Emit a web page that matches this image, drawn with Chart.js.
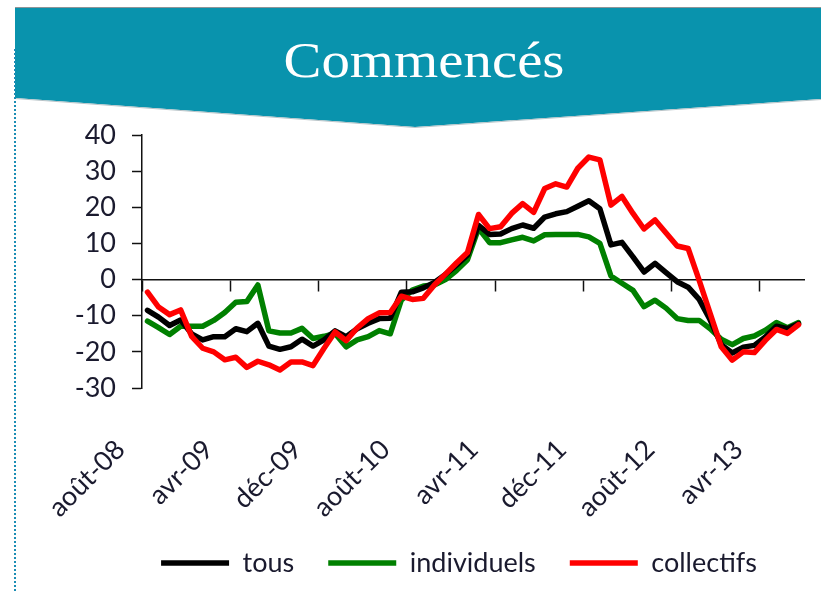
<!DOCTYPE html>
<html>
<head>
<meta charset="utf-8">
<script src="https://cdn.jsdelivr.net/npm/chart.js@4"></script>
<style>
html,body{margin:0;padding:0;background:#fff;width:821px;height:591px;overflow:hidden}
#wrap{position:relative;width:821px;height:591px}
#c{position:absolute;left:0;top:0}
#banner{position:absolute;left:0;top:0}
#dots{position:absolute;left:14px;top:49px;height:542px;border-left:2px dotted #1b8db4}
</style>
</head>
<body>
<div id="wrap">
<canvas id="c" width="821" height="591"></canvas>
<svg id="banner" width="821" height="135" xmlns="http://www.w3.org/2000/svg">
  <polygon points="15,8 821,8 821,99 415,127 15,98" fill="#0993ad"/>
  <polyline points="15,98.5 415,127.5 821,99.5" fill="none" stroke="#b9c4c8" stroke-width="1"/>
  <line x1="15" y1="7.5" x2="821" y2="7.5" stroke="#8e9598" stroke-width="1.2"/>
  <text x="424" y="77" text-anchor="middle" font-family="Liberation Serif" font-size="50" fill="#ffffff" textLength="281" lengthAdjust="spacingAndGlyphs">Commencés</text>
</svg>
<div id="dots"></div>
</div>
<script>
const categories = ['août-08','sept-08','oct-08','nov-08','déc-08',
  'janv-09','févr-09','mars-09','avr-09','mai-09','juin-09','juil-09','août-09','sept-09','oct-09','nov-09','déc-09',
  'janv-10','févr-10','mars-10','avr-10','mai-10','juin-10','juil-10','août-10','sept-10','oct-10','nov-10','déc-10',
  'janv-11','févr-11','mars-11','avr-11','mai-11','juin-11','juil-11','août-11','sept-11','oct-11','nov-11','déc-11',
  'janv-12','févr-12','mars-12','avr-12','mai-12','juin-12','juil-12','août-12','sept-12','oct-12','nov-12','déc-12',
  'janv-13','févr-13','mars-13','avr-13','mai-13','juin-13','juil-13'];
const shownTicks = ['août-08','avr-09','déc-09','août-10','avr-11','déc-11','août-12','avr-13'];
const yTicks = [-30,-20,-10,0,10,20,30,40];

const tous = [-8.5,-10.4,-12.7,-11.2,-15.0,-16.7,-15.8,-15.8,-13.6,-14.4,-12.1,-18.4,-19.3,-18.6,-16.5,
  -18.4,-16.7,-14.2,-15.8,-13.6,-12.1,-10.8,-10.7,-3.5,-3.4,-2.3,-0.8,1.4,4.0,6.8,
  15.0,12.5,12.6,14.1,15.1,14.2,17.3,18.2,18.8,20.3,21.8,19.6,9.6,10.3,6.3,
  2.1,4.5,1.9,-0.6,-2.1,-5.5,-11.2,-18.0,-20.3,-18.7,-18.2,-15.9,-12.9,-13.6,-12.2];
const individuels = [-11.5,-13.3,-15.2,-12.9,-12.9,-12.9,-11.3,-9.1,-6.3,-6.1,-1.5,-14.2,-14.8,-14.8,-13.5,
  -16.3,-15.7,-14.9,-18.6,-16.7,-15.8,-14.1,-15.0,-5.7,-2.9,-1.8,-1.5,0.0,2.5,5.5,
  14.2,10.2,10.2,11.0,11.7,10.7,12.4,12.5,12.5,12.5,11.8,10.0,1.0,-1.0,-3.0,
  -7.5,-5.7,-7.9,-10.8,-11.3,-11.3,-13.6,-16.5,-18.0,-16.3,-15.6,-14.0,-11.9,-13.3,-11.9];
const collectifs = [-3.5,-7.6,-9.7,-8.4,-15.7,-19.0,-20.0,-22.2,-21.5,-24.3,-22.6,-23.6,-25.0,-22.8,-22.8,
  -23.8,-19.0,-14.5,-16.9,-13.4,-10.8,-9.2,-9.1,-4.6,-5.5,-5.2,-1.5,1.5,4.6,7.5,
  18.0,14.1,14.6,18.3,21.0,18.6,25.2,26.5,25.6,30.8,33.9,33.1,20.6,23.0,18.3,
  14.0,16.5,12.9,9.3,8.6,-0.2,-9.4,-18.6,-22.3,-20.0,-20.2,-16.8,-13.8,-14.9,-12.5];

const seriesNames = ['tous','individuels','collectifs'];
const seriesColors = ['#000000','#008000','#ff0000'];
const textColor = '#1a1a2e';
const axisColor = '#111111';
const font27 = {family: 'Lato', size: 27};

function ds(i, data, order) {
  return {
    label: seriesNames[i], data: data, order: order,
    borderColor: seriesColors[i], backgroundColor: seriesColors[i],
    borderWidth: 5.5, pointRadius: 0, pointHoverRadius: 0, tension: 0,
    borderJoinStyle: 'round', borderCapStyle: 'round', fill: false,
    xAxisID: 'x', yAxisID: 'y'
  };
}

// moves the legend box to where the reference puts it
const legendShift = {
  id: 'legendShift',
  afterLayout(chart) {
    const lg = chart.legend;
    if (!lg) return;
    lg.left += 22; lg.right += 22;
    lg.top -= 10.5; lg.bottom -= 10.5;
  }
};

new Chart(document.getElementById('c'), {
  type: 'line',
  data: {
    labels: categories,
    datasets: [ds(0, tous, 1), ds(1, individuels, 2), ds(2, collectifs, 0)]
  },
  plugins: [legendShift],
  options: {
    responsive: false,
    devicePixelRatio: 1,
    animation: false,
    events: [],
    layout: {padding: {left: 70, right: 17, top: 135, bottom: 0}},
    plugins: {
      tooltip: {enabled: false},
      title: {display: false},
      legend: {
        position: 'bottom',
        align: 'center',
        maxHeight: 65,
        labels: {
          font: font27, color: textColor,
          usePointStyle: true, pointStyle: 'line', pointStyleWidth: 68,
          padding: 34,
          sort: (a, b) => a.datasetIndex - b.datasetIndex
        }
      }
    },
    scales: {
      x: {
        type: 'category',
        position: {y: 0},
        offset: true,
        grid: {
          offset: true, drawOnChartArea: false, drawTicks: true, tickLength: 11, tickWidth: 1.5,
          tickColor: (c) => (c.index !== undefined && c.index % 8 === 0) ? axisColor : 'rgba(0,0,0,0)'
        },
        border: {display: true, color: axisColor, width: 1.5},
        ticks: {display: false}
      },
      xl: {
        type: 'category',
        position: 'bottom',
        offset: true,
        grid: {display: false, drawTicks: false},
        border: {display: false},
        ticks: {
          autoSkip: false, minRotation: 45, maxRotation: 45,
          font: font27, color: textColor,
          padding: 45.5, labelOffset: -27,
          callback: function (v, i) { const l = categories[i]; return shownTicks.includes(l) ? l : ''; }
        },
        afterFit: (s) => { s.height = 138; s.paddingLeft = 0; s.paddingRight = 0; }
      },
      y: {
        type: 'linear',
        position: 'left',
        min: yTicks[0], max: yTicks[yTicks.length - 1],
        afterBuildTicks: (s) => { s.ticks = yTicks.map(v => ({value: v})); },
        grid: {drawOnChartArea: false, drawTicks: true, tickLength: 10, tickWidth: 1.5, tickColor: axisColor},
        border: {display: true, color: axisColor, width: 1.5},
        ticks: {font: font27, color: textColor, padding: 16},
        afterFit: (s) => { s.width = 72; }
      }
    }
  }
});
</script>
</body>
</html>
